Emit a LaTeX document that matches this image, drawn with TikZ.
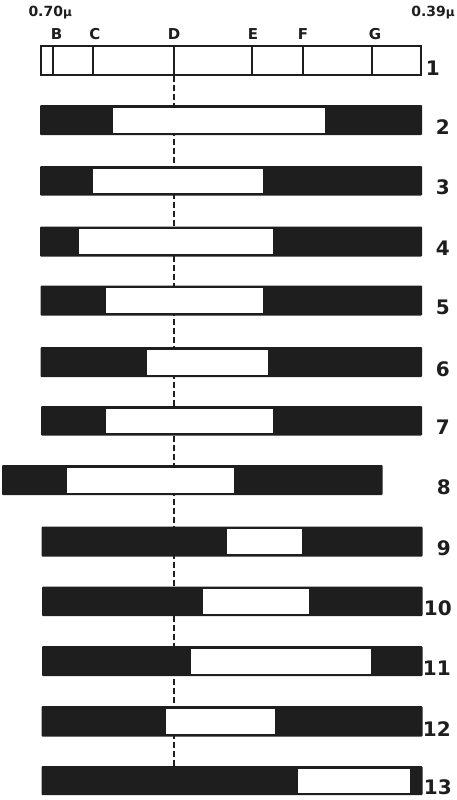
\documentclass[tikz,border=0pt]{standalone}
\usepackage{fontspec}
\setmainfont{DejaVu Sans}
\usetikzlibrary{fit,backgrounds}
\definecolor{ink}{HTML}{1E1E1E}

\begin{document}
\begin{tikzpicture}[x=1pt, y=-1pt,
  band/.style={rectangle, fill=ink, inner sep=0pt, rounded corners=1pt},
  gap/.style={rectangle, fill=white, inner sep=0pt},
  scalebar/.style={rectangle, draw=ink, fill=white, line width=2pt, inner sep=0pt},
  div/.style={draw=ink, line width=2pt},
  letter/.style={anchor=base, inner sep=0pt, font=\bfseries\fontsize{15}{15}\selectfont, text=ink},
  wave/.style={inner sep=0pt, font=\bfseries\fontsize{14}{14}\selectfont, text=ink},
  num/.style={anchor=east, inner sep=0pt, yshift=8pt, font=\bfseries\fontsize{20}{20}\selectfont, text=ink},
  guide/.style={draw=ink, line width=1.9pt, dash pattern=on 6pt off 3pt}
]
\useasboundingbox (0,0) rectangle (457,800);

% --- wavelength ends and line letters ---
\node[wave, anchor=base west] (long) at (28.3,16.7) {0.70{\fontsize{12}{12}\selectfont µ}};
\node[wave, anchor=base east] (short) at (455,16.7) {0.39{\fontsize{12}{12}\selectfont µ}};
\node[letter] (B) at (56.7,39.3) {B};
\node[letter] (C) at (95,39.3) {C};
\node[letter] (D) at (174,39.3) {D};
\node[letter] (E) at (253,39.3) {E};
\node[letter] (F) at (303,39.3) {F};
\node[letter] (G) at (375,39.3) {G};

% --- 1: the scale ---
\node[scalebar, fit={(41,46) (421,75)}] (b1) {};
\draw[div] (53.3,0 |- b1.north) -- (53.3,0 |- b1.south)
           (93.3,0 |- b1.north) -- (93.3,0 |- b1.south)
           (174,0 |- b1.north) -- (174,0 |- b1.south)
           (252.3,0 |- b1.north) -- (252.3,0 |- b1.south)
           (303.3,0 |- b1.north) -- (303.3,0 |- b1.south)
           (371.7,0 |- b1.north) -- (371.7,0 |- b1.south);
\node[num] (n1) at (440,0 |- b1.south) {1};

% --- 2..13: dark bands with their open windows ---
\node[band, fit={(40,105) (422,135)}] (b2) {};
\node[gap, fit={(113,107.5) (325,132.5)}] (w2) {};
\node[num] (n2) at (450,0 |- b2.south) {2};

\node[band, fit={(40,166) (422,195.5)}] (b3) {};
\node[gap, fit={(92.7,168.5) (263.3,193)}] (w3) {};
\node[num] (n3) at (450,0 |- b3.south) {3};

\node[band, fit={(40,226.5) (422,256.5)}] (b4) {};
\node[gap, fit={(79.3,229) (273.3,254)}] (w4) {};
\node[num] (n4) at (450,0 |- b4.south) {4};

\node[band, fit={(40.5,285.5) (422,315.5)}] (b5) {};
\node[gap, fit={(105.7,288) (262.7,313)}] (w5) {};
\node[num] (n5) at (450,0 |- b5.south) {5};

\node[band, fit={(40.5,347) (422,377)}] (b6) {};
\node[gap, fit={(147.3,349.5) (268.3,374.5)}] (w6) {};
\node[num] (n6) at (450,0 |- b6.south) {6};

\node[band, fit={(41,406) (422,435.5)}] (b7) {};
\node[gap, fit={(105.7,408.5) (273.3,433)}] (w7) {};
\node[num] (n7) at (450,0 |- b7.south) {7};

\node[band, fit={(2,465) (382.7,495)}] (b8) {};
\node[gap, fit={(66.7,467.5) (234,492.5)}] (w8) {};
\node[num] (n8) at (451,0 |- b8.south) {8};

\node[band, fit={(41.5,526.5) (422.5,556.5)}] (b9) {};
\node[gap, fit={(226.7,529) (301.7,554)}] (w9) {};
\node[num] (n9) at (451,0 |- b9.south) {9};

\node[band, fit={(42,586.5) (422.5,616)}] (b10) {};
\node[gap, fit={(203.3,589) (309,613.5)}] (w10) {};
\node[num] (n10) at (452,0 |- b10.south) {10};

\node[band, fit={(42,646) (422.5,676)}] (b11) {};
\node[gap, fit={(191,648.5) (371,673.5)}] (w11) {};
\node[num] (n11) at (451,0 |- b11.south) {11};

\node[band, fit={(41.5,706) (422.5,736.5)}] (b12) {};
\node[gap, fit={(165.7,708.5) (275,734)}] (w12) {};
\node[num] (n12) at (451,0 |- b12.south) {12};

\node[band, fit={(41.5,766) (422.5,795)}] (b13) {};
\node[gap, fit={(297.7,768.5) (410,792.5)}] (w13) {};
\node[num] (n13) at (452,0 |- b13.south) {13};

% --- the D line, behind the bands ---
\begin{scope}[on background layer]
\draw[guide] (174,0 |- b1.south) -- (174,0 |- b13.north);
\end{scope}

\end{tikzpicture}
\end{document}
